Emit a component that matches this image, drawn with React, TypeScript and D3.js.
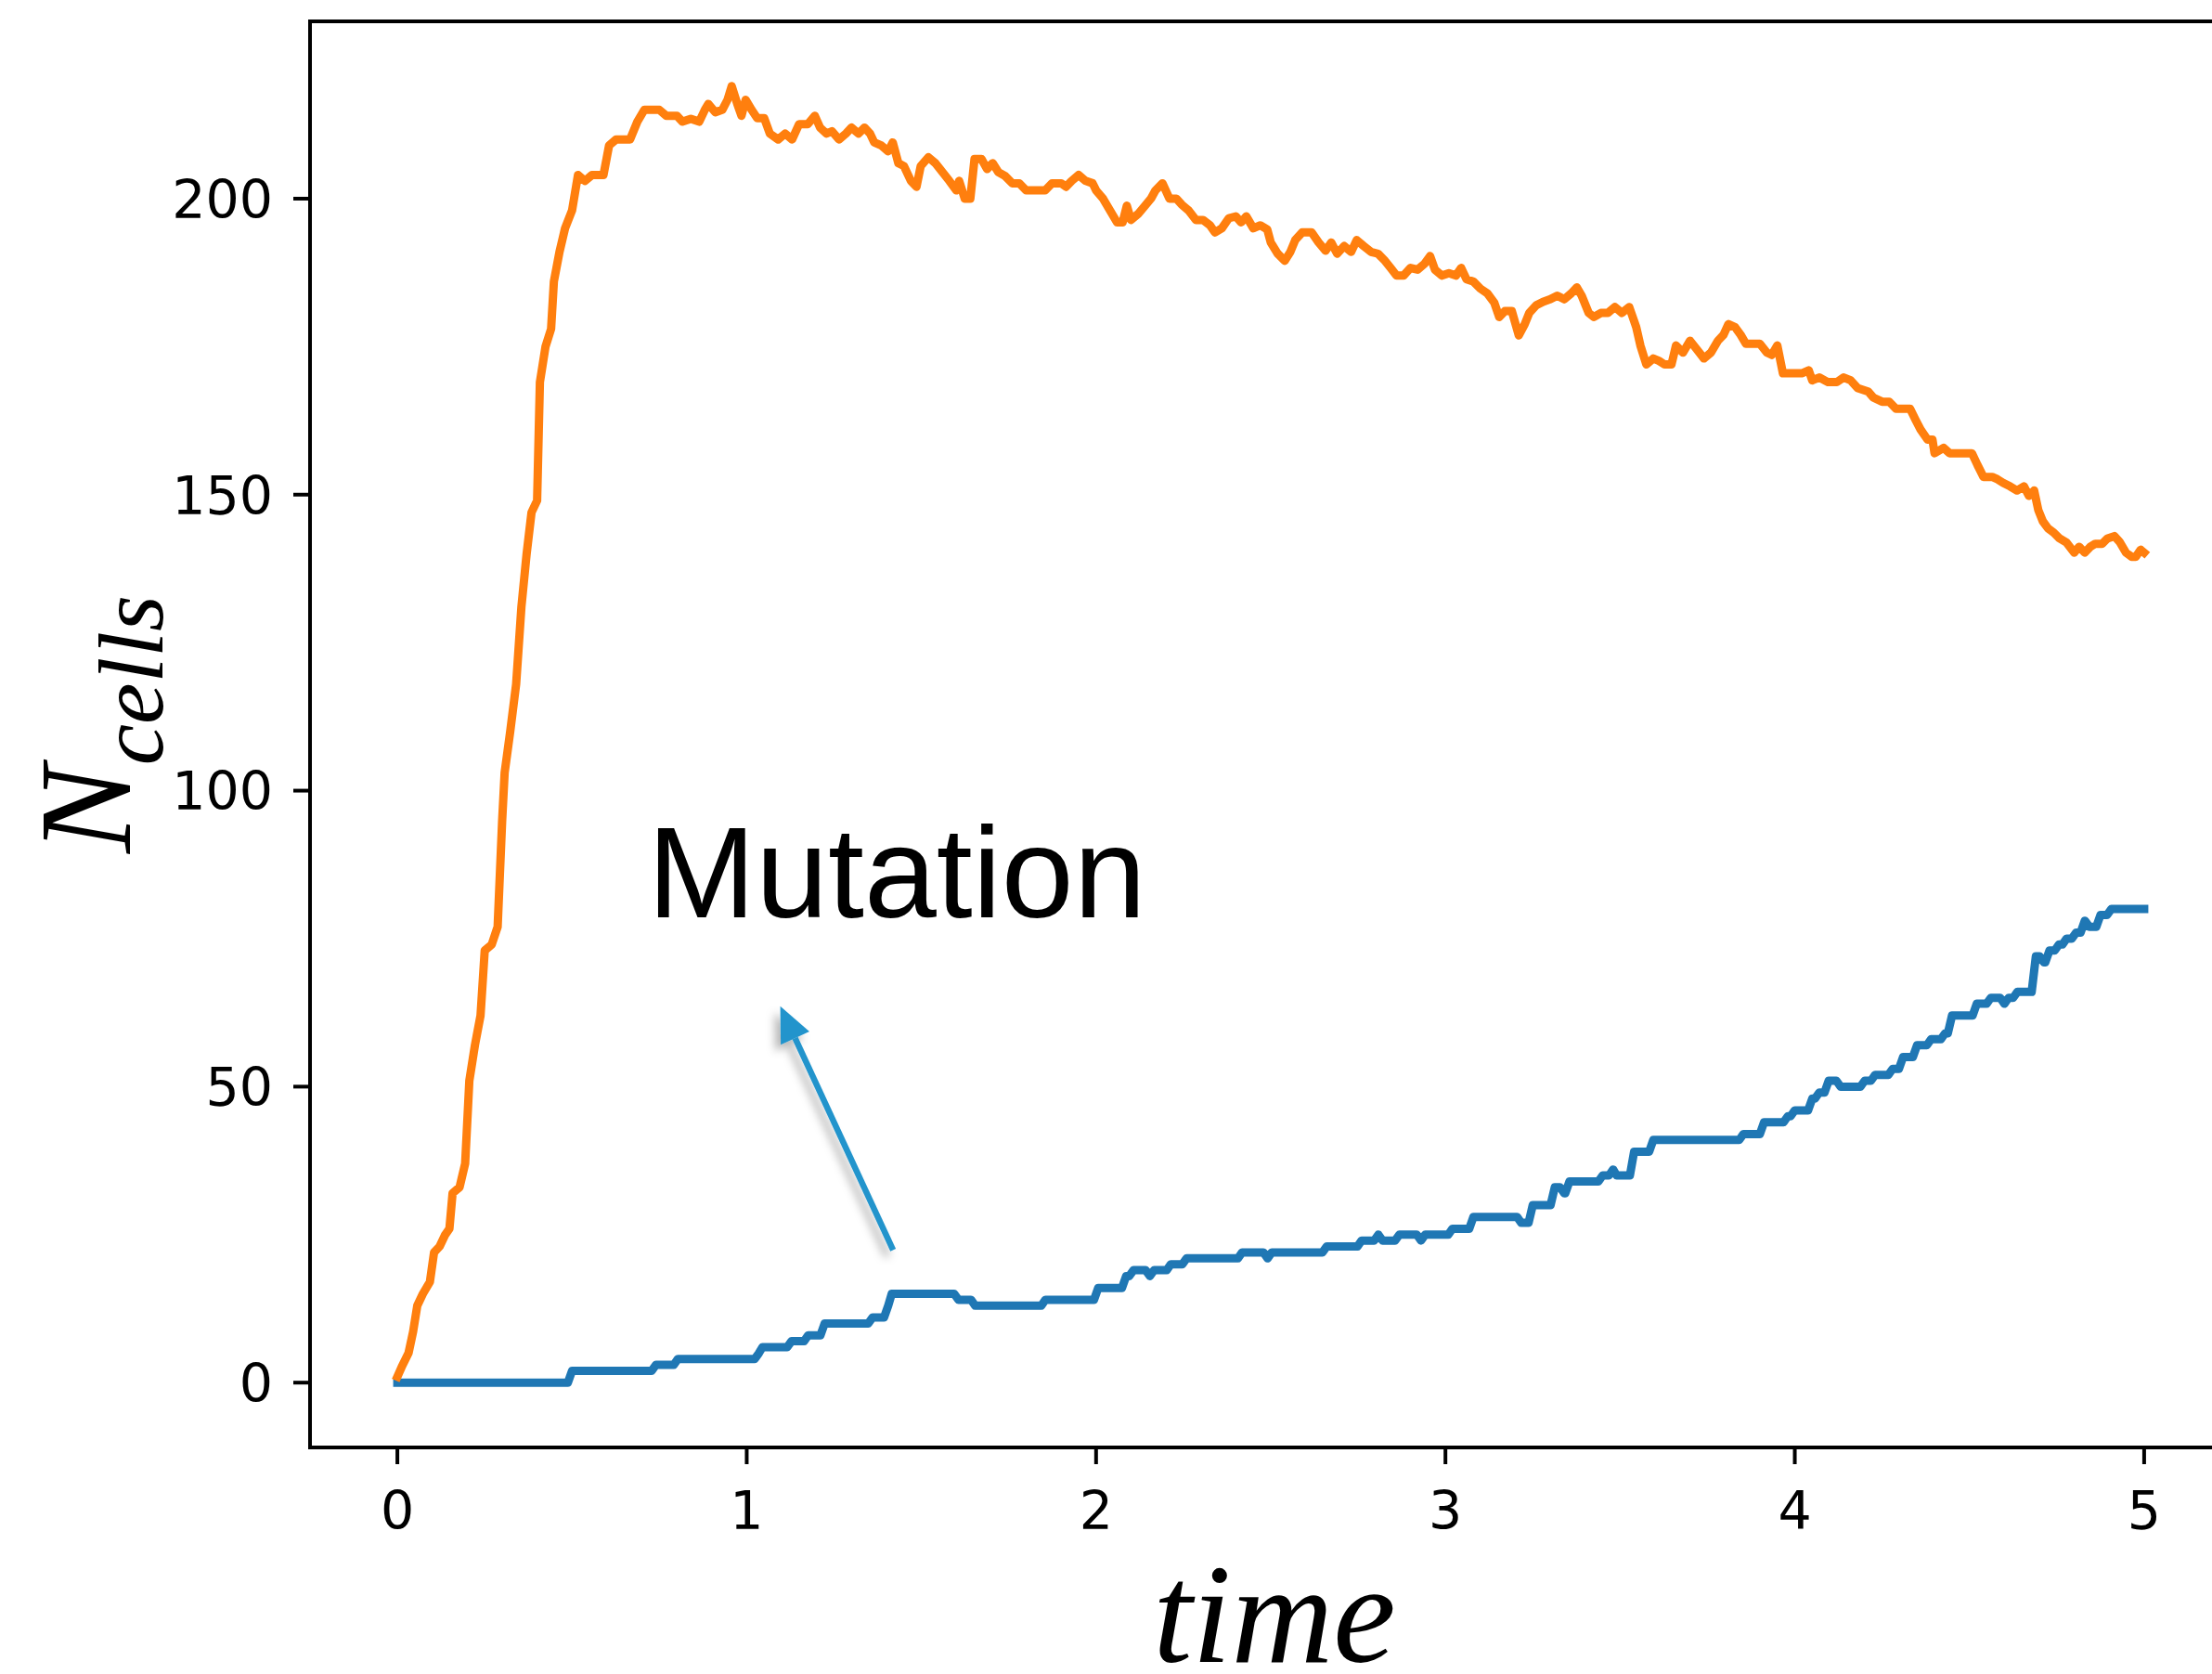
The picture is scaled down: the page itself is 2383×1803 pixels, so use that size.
import React from "react";
import * as d3 from "d3";

// ---- data ----
const xTicks = [0, 1, 2, 3, 4, 5];
const yTicks = [0, 50, 100, 150, 200];

// mutant cells (blue): [time at which the count changes, new count]
const blueSeries: [number, number][] = [
  [0, 0], [0.5, 2], [0.74, 3], [0.803, 4], [1.035, 5], [1.045, 6], [1.128, 7], [1.176, 8],
  [1.223, 10], [1.36, 11], [1.405, 13], [1.415, 15], [1.606, 14], [1.654, 13], [1.855, 14],
  [2.006, 16], [2.086, 18], [2.107, 19], [2.154, 18], [2.166, 19], [2.214, 20], [2.259, 21],
  [2.418, 22], [2.491, 21], [2.503, 22], [2.66, 23], [2.76, 24], [2.808, 25], [2.82, 24],
  [2.868, 25], [2.93, 24], [2.942, 25], [3.02, 26], [3.08, 28], [3.217, 27], [3.25, 30],
  [3.313, 33], [3.34, 32], [3.355, 34], [3.45, 35], [3.48, 36], [3.49, 35], [3.54, 39],
  [3.595, 41], [3.853, 42], [3.912, 44], [3.98, 45], [4.0, 46], [4.05, 48], [4.07, 49],
  [4.097, 51], [4.131, 50], [4.2, 51], [4.23, 52], [4.28, 53], [4.31, 55], [4.35, 57],
  [4.39, 58], [4.43, 59], [4.45, 62], [4.521, 64], [4.561, 65], [4.6, 64], [4.612, 65],
  [4.637, 66], [4.69, 72], [4.713, 71], [4.729, 73], [4.756, 74], [4.778, 75], [4.805, 76],
  [4.83, 78], [4.843, 77], [4.875, 79], [4.906, 80], [5.0, 80],
];
// sampling interval of the simulation output (blue transitions are drawn over one sample)
const sampleDt = 0.012;

// total cells (orange, noisy)
const orangeSeries: [number, number][] = [
  [0, 1], [0.012, 2.6], [0.032, 5], [0.045, 8.6], [0.057, 13], [0.073, 15], [0.093, 17], [0.105, 22],
  [0.121, 23], [0.137, 25], [0.149, 26], [0.158, 32], [0.178, 33], [0.194, 37], [0.206, 51], [0.222, 57],
  [0.238, 62], [0.25, 73], [0.27, 74], [0.287, 77], [0.3, 95], [0.307, 103], [0.323, 110], [0.34, 118],
  [0.355, 131], [0.37, 140], [0.384, 147], [0.4, 149], [0.408, 169], [0.424, 175], [0.44, 178], [0.448, 186],
  [0.464, 191], [0.48, 195], [0.5, 198], [0.517, 204], [0.537, 203], [0.557, 204], [0.59, 204], [0.606, 209],
  [0.626, 210], [0.666, 210], [0.687, 213], [0.707, 215], [0.727, 215], [0.75, 215], [0.77, 214], [0.8, 214],
  [0.816, 213], [0.84, 213.5], [0.864, 213], [0.88, 215], [0.89, 216], [0.91, 214.6], [0.93, 215], [0.945, 216.7],
  [0.957, 219], [0.973, 216], [0.985, 214], [0.997, 216.7], [1.014, 215], [1.03, 213.6], [1.05, 213.6], [1.066, 211],
  [1.09, 210], [1.11, 211], [1.13, 210], [1.15, 212.6], [1.175, 212.6], [1.195, 214], [1.21, 212], [1.228, 211],
  [1.244, 211.4], [1.264, 210], [1.284, 211], [1.3, 212], [1.32, 211], [1.337, 212], [1.353, 211], [1.365, 209.5],
  [1.385, 209], [1.405, 208], [1.418, 209.5], [1.434, 206], [1.45, 205.5], [1.47, 203], [1.486, 202], [1.498, 205.5],
  [1.52, 207], [1.54, 206], [1.56, 204.5], [1.58, 203], [1.6, 201.4], [1.608, 203], [1.624, 200], [1.64, 200],
  [1.652, 206.7], [1.672, 206.7], [1.688, 205], [1.704, 206], [1.72, 204.5], [1.74, 203.8], [1.76, 202.6], [1.78, 202.6],
  [1.8, 201.4], [1.83, 201.4], [1.854, 201.4], [1.874, 202.6], [1.9, 202.6], [1.914, 202], [1.93, 203], [1.95, 204],
  [1.97, 203], [1.99, 202.6], [2.0, 201.4], [2.02, 200], [2.04, 198], [2.06, 196], [2.076, 196], [2.088, 198.8],
  [2.1, 196.4], [2.12, 197.4], [2.14, 198.8], [2.157, 200], [2.17, 201.4], [2.19, 202.6], [2.21, 200], [2.23, 200],
  [2.245, 199], [2.265, 198], [2.286, 196.4], [2.306, 196.4], [2.326, 195.5], [2.34, 194.3], [2.36, 195], [2.38, 196.7],
  [2.4, 197], [2.415, 196], [2.43, 197], [2.45, 195], [2.47, 195.5], [2.49, 194.8], [2.5, 192.6], [2.52, 190.7],
  [2.54, 189.5], [2.556, 191], [2.57, 193], [2.59, 194.3], [2.617, 194.3], [2.637, 192.6], [2.657, 191.2], [2.673, 192.6],
  [2.69, 190.7], [2.71, 192], [2.73, 191], [2.746, 193], [2.766, 192], [2.787, 191], [2.807, 190.7], [2.827, 189.5],
  [2.843, 188.3], [2.86, 187], [2.88, 187], [2.9, 188.3], [2.92, 188], [2.94, 189], [2.956, 190.3], [2.97, 188],
  [2.99, 187], [3.01, 187.4], [3.03, 187], [3.045, 188.3], [3.06, 186.4], [3.08, 186], [3.1, 184.8], [3.12, 184],
  [3.14, 182.4], [3.154, 180], [3.17, 181], [3.19, 181], [3.21, 176.9], [3.227, 178.8], [3.24, 180.7], [3.26, 182],
  [3.28, 182.6], [3.3, 183], [3.32, 183.6], [3.34, 183], [3.36, 184], [3.376, 185], [3.39, 183.6], [3.41, 180.7],
  [3.425, 180], [3.445, 180.7], [3.465, 180.7], [3.485, 181.7], [3.505, 180.7], [3.526, 181.7], [3.546, 178.3], [3.558, 175.2],
  [3.575, 172], [3.595, 173], [3.611, 172.6], [3.627, 172], [3.647, 172], [3.66, 175.2], [3.68, 174], [3.7, 176],
  [3.72, 174.5], [3.74, 173], [3.76, 174], [3.78, 176], [3.796, 177], [3.81, 178.8], [3.829, 178.3], [3.845, 177],
  [3.86, 175.5], [3.88, 175.5], [3.9, 175.5], [3.92, 174], [3.934, 173.6], [3.95, 175.2], [3.966, 170.5], [3.99, 170.5],
  [4.02, 170.5], [4.04, 171], [4.05, 169.3], [4.07, 169.8], [4.095, 169], [4.12, 169], [4.14, 169.8], [4.16, 169.3],
  [4.18, 168], [4.21, 167.4], [4.225, 166.4], [4.25, 165.7], [4.27, 165.7], [4.29, 164.5], [4.31, 164.5], [4.33, 164.5],
  [4.346, 162.6], [4.36, 161], [4.38, 159.3], [4.394, 159.3], [4.4, 157], [4.426, 157.9], [4.443, 157], [4.459, 157],
  [4.475, 157], [4.507, 157], [4.523, 155], [4.54, 153], [4.565, 153], [4.58, 152.6], [4.596, 152], [4.616, 151.4],
  [4.636, 150.7], [4.656, 151.4], [4.67, 149.8], [4.685, 150.7], [4.697, 147.4], [4.71, 145.5], [4.725, 144.3], [4.741, 143.6],
  [4.758, 142.6], [4.778, 141.9], [4.8, 140.2], [4.814, 141.2], [4.83, 140.2], [4.846, 141.2], [4.86, 141.7], [4.88, 141.7],
  [4.895, 142.6], [4.915, 143], [4.93, 142], [4.948, 140.2], [4.964, 139.5], [4.976, 139.5], [4.99, 140.7], [5.0, 140.2],
];

// annotation (data coordinates)
const annotationText = "Mutation";
const annotationTextPos: [number, number] = [0.716, 78.6];
const arrowTail: [number, number] = [1.419, 22.4];
const arrowTip: [number, number] = [1.096, 63.6];

// ---- layout ----
const W = 2383;
const H = 1803;
const left = 334;
const right = 2404;
const top = 23;
const bottom = 1559;

const x = d3.scaleLinear().domain([-0.25, 5.25]).range([left, right]);
const y = d3.scaleLinear().domain([-10.95, 229.95]).range([bottom, top]);

const line = d3
  .line<[number, number]>()
  .x((d) => x(d[0]))
  .y((d) => y(d[1]));

// blue path: each change happens over one sampling interval
const bluePath: [number, number][] = [];
blueSeries.forEach((d, i) => {
  if (i > 0) bluePath.push([Math.max(d[0] - sampleDt, blueSeries[i - 1][0]), blueSeries[i - 1][1]]);
  bluePath.push(d);
});

const tickFont = "DejaVu Sans";
const tickSize = 57;
const tickLen = 18;
const axisW = 4;
const lineW = 9;

export default function App() {
  const tx = x(arrowTail[0]);
  const ty = y(arrowTail[1]);
  const hx = x(arrowTip[0]);
  const hy = y(arrowTip[1]);
  const ang = Math.atan2(hy - ty, hx - tx);
  const headLen = 38;
  const headHalf = 17;
  const bx = hx - headLen * Math.cos(ang);
  const by = hy - headLen * Math.sin(ang);
  const px = -Math.sin(ang);
  const py = Math.cos(ang);
  const head = `M${hx},${hy} L${bx + headHalf * px},${by + headHalf * py} L${bx - headHalf * px},${by - headHalf * py} Z`;

  return (
    <svg
      width={W}
      height={H}
      style={{ position: "absolute", left: 0, top: 0, background: "#fff" }}
    >
      <defs>
        <filter id="shadow" x="-50%" y="-50%" width="200%" height="200%">
          <feDropShadow dx={-6} dy={7} stdDeviation={5} floodColor="#000" floodOpacity={0.28} />
        </filter>
      </defs>
      <rect x={0} y={0} width={W} height={H} fill="#fff" />

      {/* series */}
      <path
        d={line(bluePath) || ""}
        fill="none"
        stroke="#1f77b4"
        strokeWidth={lineW}
        strokeLinejoin="round"
        strokeLinecap="square"
      />
      <path
        d={line(orangeSeries) || ""}
        fill="none"
        stroke="#ff7f0e"
        strokeWidth={lineW}
        strokeLinejoin="round"
        strokeLinecap="square"
      />

      {/* spines */}
      <rect
        x={left}
        y={top}
        width={right - left}
        height={bottom - top}
        fill="none"
        stroke="#000"
        strokeWidth={axisW}
      />

      {/* x ticks */}
      {xTicks.map((t) => (
        <g key={"x" + t}>
          <line x1={x(t)} x2={x(t)} y1={bottom} y2={bottom + tickLen} stroke="#000" strokeWidth={axisW} />
          <text
            x={x(t)}
            y={1647}
            fontFamily={tickFont}
            fontSize={tickSize}
            textAnchor="middle"
          >
            {t}
          </text>
        </g>
      ))}

      {/* y ticks */}
      {yTicks.map((v) => (
        <g key={"y" + v}>
          <line x1={left - tickLen} x2={left} y1={y(v)} y2={y(v)} stroke="#000" strokeWidth={axisW} />
          <text
            x={294}
            y={y(v) + tickSize * 0.3645}
            fontFamily={tickFont}
            fontSize={tickSize}
            textAnchor="end"
          >
            {v}
          </text>
        </g>
      ))}

      {/* axis labels */}
      <text
        x={(left + right) / 2 + 4}
        y={1790}
        fontFamily="Liberation Serif"
        fontStyle="italic"
        fontSize={152}
        textAnchor="middle"
      >
        time
      </text>
      <text
        transform={`translate(140, 919) rotate(-90)`}
        fontFamily="Liberation Serif"
        fontStyle="italic"
      >
        <tspan fontSize={142}>N</tspan>
        <tspan fontSize={100} dy={35}>cells</tspan>
      </text>

      {/* annotation */}
      <text
        x={x(annotationTextPos[0])}
        y={y(annotationTextPos[1])}
        fontFamily="Liberation Sans"
        fontSize={140}
      >
        {annotationText}
      </text>
      <g filter="url(#shadow)">
        <line x1={tx} y1={ty} x2={bx} y2={by} stroke="#2394cc" strokeWidth={6.5} />
        <path d={head} fill="#2394cc" />
      </g>
    </svg>
  );
}
